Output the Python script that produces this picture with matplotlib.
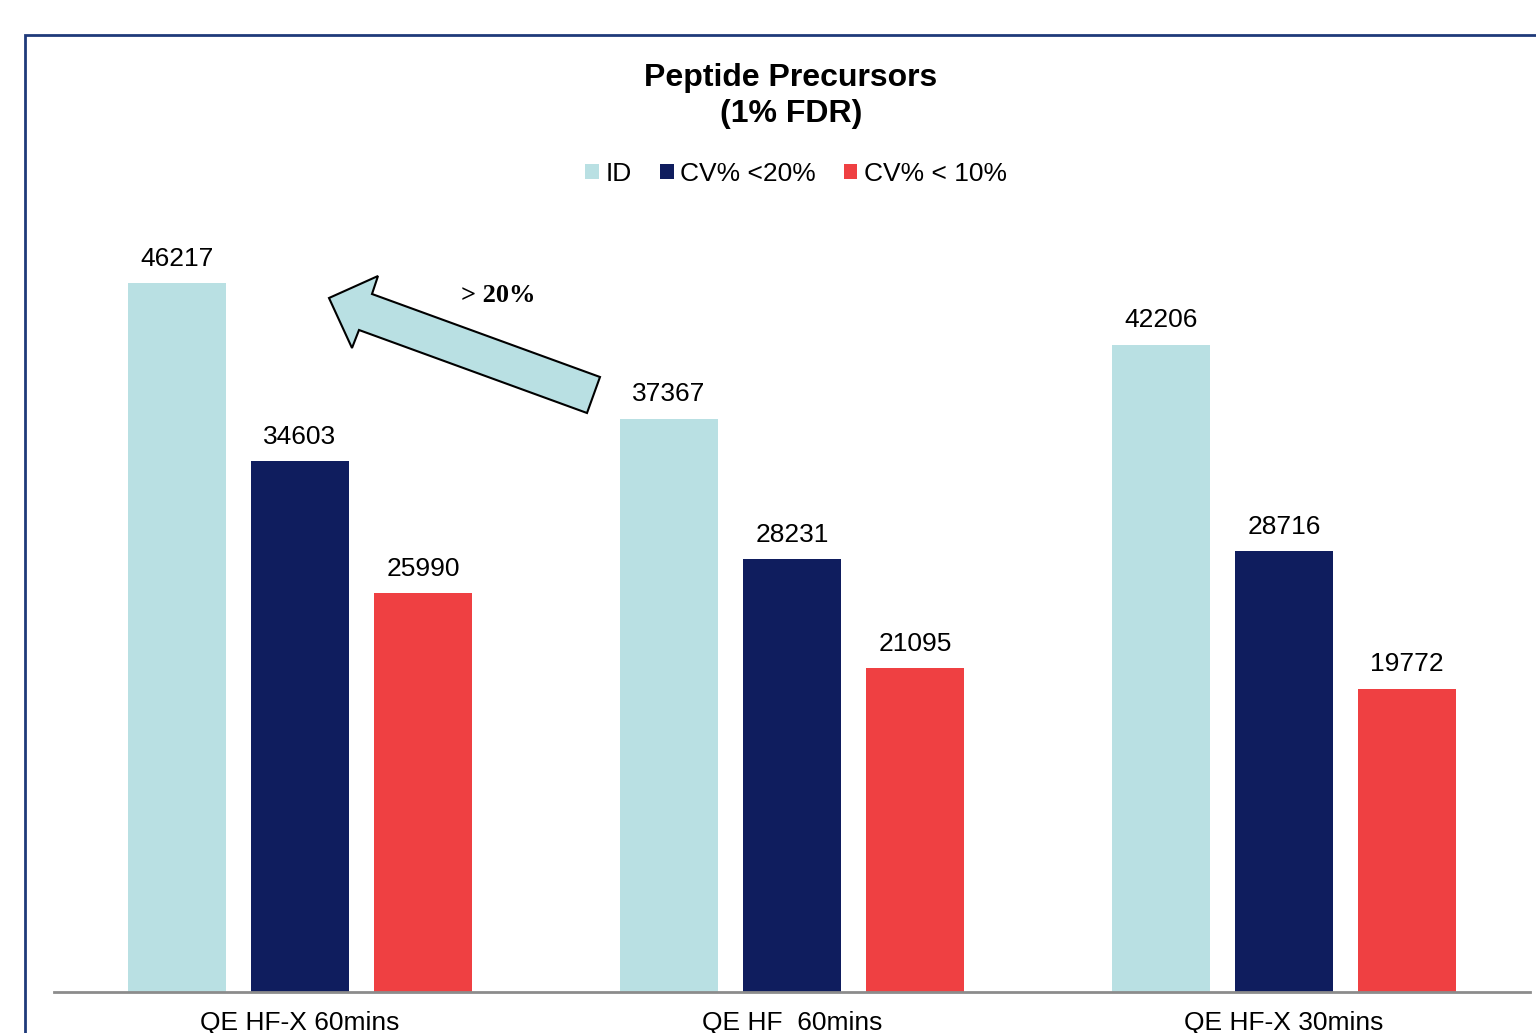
import matplotlib.pyplot as plt
import numpy as np
from matplotlib.patches import Patch, Polygon, Rectangle

plt.rcParams['font.family'] = ['Liberation Sans', 'DejaVu Sans']

# Dados
categorias = ['QE HF-X 60mins', 'QE HF  60mins', 'QE HF-X 30mins']
series = ['ID', 'CV% <20%', 'CV% < 10%']
valores_id = [46217, 37367, 42206]
valores_cv20 = [34603, 28231, 28716]
valores_cv10 = [25990, 21095, 19772]
cores = ['#B9E0E3', '#0F1D5E', '#EF4042']

W, H = 1536, 1033
fig = plt.figure(figsize=(W / 100, H / 100), dpi=100)
ax = fig.add_axes([54 / W, 1 - 992 / H, 1476 / W, 792 / H])

x = np.arange(len(categorias))
largura = 0.199
passo = 0.25
for i, (vals, cor) in enumerate(zip([valores_id, valores_cv20, valores_cv10], cores)):
    barras = ax.bar(x + (i - 1) * passo, vals, largura, color=cor, label=series[i])
    for b, v in zip(barras, vals):
        ax.annotate(str(v), (b.get_x() + b.get_width() / 2, v),
                    xytext=(0, 12.5), textcoords='offset points',
                    ha='center', va='baseline', fontsize=19)

ax.set_xlim(-0.5, 2.5)
ax.set_ylim(0, 51626)
ax.set_yticks([])
ax.set_xticks(x, categorias, fontsize=19)
ax.tick_params(axis='x', length=0, pad=14)
for s in ['left', 'right', 'top']:
    ax.spines[s].set_visible(False)
ax.spines['bottom'].set_color('#8C8C8C')
ax.spines['bottom'].set_linewidth(2)
ax.set_facecolor('none')

# Título
fig.text(791 / W, 1 - 96 / H, 'Peptide Precursors\n(1% FDR)', ha='center', va='center',
         fontsize=23, fontweight='bold', linespacing=1.3)

# Legenda
handles = [Patch(facecolor=c, edgecolor='none') for c in cores]
fig.legend(handles, series, loc='center', bbox_to_anchor=(796 / W, 1 - 174 / H),
           ncol=3, frameon=False, fontsize=19, handlelength=0.53, handleheight=0.53,
           handletextpad=0.23, columnspacing=1.06, borderpad=0)

# Moldura azul
fig.patches.append(Rectangle((25 / W, -0.1), 1.2, 1.1 - 35 / H, transform=fig.transFigure,
                             fill=False, edgecolor='#1F3A7A', linewidth=2))

# Seta "> 20%"
pts = [(329, 298), (378, 276), (372, 294), (600, 377), (587, 413), (359, 330), (352, 348)]
seta = Polygon([(px / W, 1 - py / H) for px, py in pts], closed=True,
               transform=fig.transFigure, facecolor='#B9E0E3', edgecolor='black', linewidth=1.5)
fig.patches.append(seta)
fig.text(498 / W, 1 - 295 / H, '> 20%', ha='center', va='center', fontsize=19,
         fontweight='bold', family=['Liberation Serif', 'DejaVu Serif'])

fig.savefig('out.png', dpi=100)
